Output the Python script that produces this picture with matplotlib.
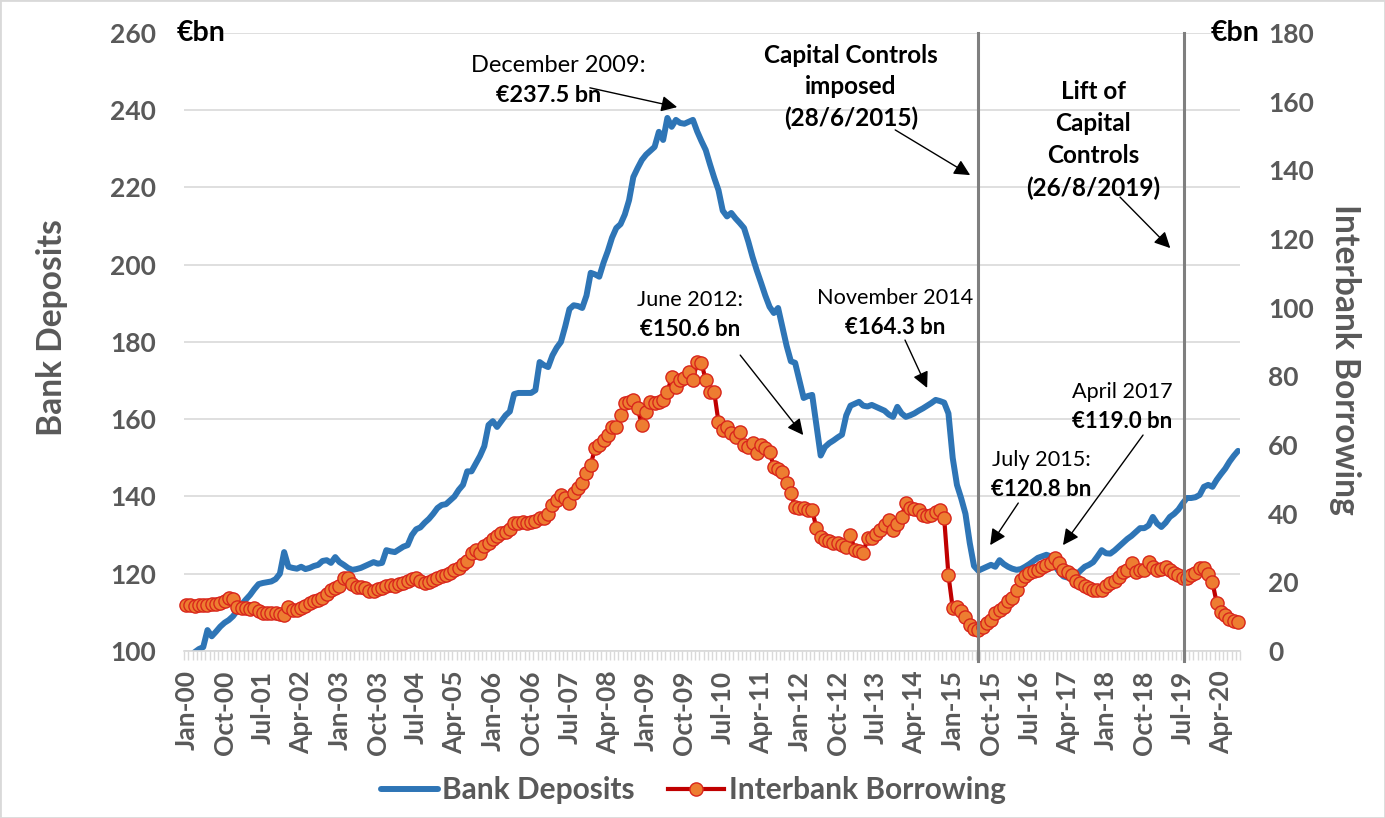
import numpy as np
import pandas as pd
import matplotlib.pyplot as plt
from matplotlib.patches import Rectangle

plt.rcParams['font.family'] = ['Lato', 'DejaVu Sans']

# monthly categories Jan-00 .. Aug-20
months = pd.date_range('2000-01-01', periods=248, freq='MS').strftime('%b-%y').tolist()

# Bank deposits, EUR bn (left axis)
deposits = [
    97.5, 98.8, 99.7, 100.5, 101.0, 105.4, 103.8, 105.0, 106.3, 107.3, 108.0, 109.0,     # 2000
    110.5, 112.0, 113.3, 114.5, 116.0, 117.3, 117.6, 117.8, 118.0, 118.6, 120.0, 125.6,  # 2001
    121.8, 121.5, 121.3, 121.8, 121.2, 121.5, 122.0, 122.3, 123.3, 123.5, 122.8, 124.3,  # 2002
    123.0, 122.3, 121.5, 121.0, 121.2, 121.5, 122.0, 122.5, 123.0, 122.6, 122.8, 126.1,  # 2003
    125.8, 125.6, 126.3, 127.0, 127.4, 130.0, 131.5, 132.0, 133.2, 134.2, 135.5, 137.0,  # 2004
    137.8, 138.0, 139.0, 140.0, 141.7, 143.0, 146.5, 146.5, 148.5, 150.5, 153.0, 158.5,  # 2005
    159.5, 158.0, 159.5, 161.0, 162.0, 166.5, 166.8, 166.8, 166.8, 166.8, 167.5, 174.8,  # 2006
    174.0, 173.5, 176.5, 178.5, 180.0, 184.0, 188.5, 189.5, 189.3, 188.8, 192.0, 197.9,  # 2007
    197.5, 196.9, 200.5, 203.5, 207.0, 209.5, 210.5, 213.0, 216.7, 222.7, 225.0, 227.1,  # 2008
    228.5, 229.5, 230.5, 234.4, 232.3, 238.0, 235.7, 237.5, 236.7, 236.5, 237.0, 237.5,  # 2009
    234.5, 232.0, 229.7, 226.0, 222.5, 219.3, 214.0, 212.5, 213.4, 212.0, 210.8, 209.5,  # 2010
    206.0, 202.0, 198.5, 195.3, 192.0, 189.1, 187.5, 188.8, 183.9, 179.0, 175.0, 174.6,  # 2011
    170.0, 165.5, 166.0, 166.3, 158.5, 150.6, 152.8, 153.8, 154.5, 155.3, 156.0, 161.0,  # 2012
    163.5, 164.0, 164.5, 163.5, 163.3, 163.7, 163.2, 162.7, 162.2, 161.2, 160.6, 163.2,  # 2013
    161.5, 160.6, 161.0, 161.5, 162.2, 162.8, 163.5, 164.2, 165.0, 164.7, 164.3, 161.5,  # 2014
    150.0, 143.0, 139.5, 135.5, 128.0, 122.0, 120.8, 121.3, 121.8, 122.3, 121.8, 123.5,  # 2015
    122.5, 121.8, 121.3, 121.0, 121.2, 121.8, 122.5, 123.3, 124.1, 124.5, 124.9, 124.5,  # 2016
    122.0, 120.5, 119.3, 119.0, 119.0, 119.7, 120.8, 121.8, 122.3, 123.0, 124.5, 126.1,  # 2017
    125.3, 125.2, 126.0, 127.0, 128.0, 129.0, 129.8, 130.8, 131.8, 131.8, 132.5, 134.7,  # 2018
    133.0, 132.1, 133.2, 134.7, 135.5, 136.6, 138.2, 139.6, 139.6, 139.8, 140.4, 142.5,  # 2019
    143.0, 142.5, 144.3, 145.8, 147.2, 149.0, 150.5, 151.8,                              # 2020
]

# Interbank borrowing, EUR bn (right axis)
interbank = [
    13.4, 13.3, 13.1, 13.3, 13.4, 13.5, 13.7, 13.8, 14.0, 14.5, 15.4, 15.2,  # 2000
    12.8, 12.5, 12.5, 12.3, 12.5, 11.5, 11.0, 11.0, 11.2, 11.0, 10.8, 10.5,  # 2001
    12.8, 12.0, 11.9, 12.5, 13.0, 14.0, 14.5, 14.9, 15.4, 16.5, 17.8, 18.3,  # 2002
    19.0, 21.3, 21.3, 19.5, 18.6, 18.5, 18.2, 17.4, 17.5, 18.0, 18.4, 18.8,  # 2003
    19.2, 18.8, 19.5, 19.8, 20.5, 21.0, 21.3, 20.5, 19.8, 20.2, 20.7, 21.3,  # 2004
    21.8, 22.1, 22.8, 23.5, 24.2, 25.2, 26.3, 28.5, 29.4, 28.5, 30.5, 31.5,  # 2005
    32.5, 33.5, 34.4, 34.7, 35.5, 37.3, 37.3, 37.5, 37.4, 37.6, 37.8, 38.7,  # 2006
    38.7, 40.0, 42.5, 44.0, 45.4, 44.5, 43.1, 46.0, 47.5, 48.9, 51.8, 54.2,  # 2007
    59.1, 60.0, 61.5, 62.9, 65.2, 65.3, 68.7, 72.2, 72.6, 73.1, 70.8, 65.8,  # 2008
    69.6, 72.5, 72.3, 72.5, 73.0, 75.4, 79.8, 76.9, 78.9, 79.5, 81.3, 78.9,  # 2009
    84.2, 83.9, 78.9, 75.4, 75.4, 66.7, 64.4, 65.2, 63.5, 62.3, 63.8, 60.0,  # 2010
    59.4, 60.6, 57.7, 60.0, 59.0, 58.0, 53.6, 53.0, 52.1, 48.9, 46.0, 42.0,  # 2011
    41.7, 41.5, 41.1, 41.1, 35.8, 33.2, 32.3, 32.0, 31.5, 31.5, 31.0, 30.3,  # 2012
    33.8, 29.4, 29.0, 28.5, 32.9, 33.0, 34.0, 35.2, 36.7, 38.2, 35.2, 37.0,  # 2013
    39.0, 43.1, 41.7, 41.3, 41.0, 39.6, 39.4, 39.5, 40.5, 41.0, 38.7, 22.1,  # 2014
    12.5, 12.8, 11.5, 9.9, 7.5, 6.3, 6.1, 7.0, 8.0, 9.0, 11.0, 12.0,        # 2015
    12.8, 14.5, 15.4, 17.8, 20.7, 21.8, 22.7, 23.2, 23.6, 24.5, 25.0, 25.6,  # 2016
    27.1, 25.6, 23.6, 23.0, 22.1, 20.5, 19.8, 18.8, 18.4, 17.8, 17.8, 17.8,  # 2017
    18.8, 19.8, 20.5, 21.6, 23.0, 23.5, 25.6, 23.0, 23.6, 23.6, 25.9, 24.5,  # 2018
    23.6, 24.0, 24.5, 23.5, 22.7, 22.0, 21.3, 21.3, 22.0, 22.7, 24.2, 24.2,  # 2019
    22.5, 20.0, 14.0, 11.4, 10.5, 9.2, 8.8, 8.4,                            # 2020
]

# event dates (category position, month index)
capital_controls = 185.9
lift_controls = 234.4

GREY = '#595959'
x = np.arange(len(months))

fig = plt.figure(figsize=(13.85, 8.18), dpi=100)
ax = fig.add_axes([0.1329, 0.2042, 0.7625, 0.7555])
ax2 = ax.twinx()

l1, = ax.plot(x, deposits, color='#2E75B6', lw=4.3, solid_joinstyle='round',
              solid_capstyle='round', label='Bank Deposits')
l2, = ax2.plot(x, interbank, color='#C00000', lw=3, marker='o', ms=9.5,
               mfc='#ED7D31', mec='#D9261C', mew=1, clip_on=False,
               label='Interbank Borrowing')

ax.set_xlim(-0.5, len(months) - 0.5)
ax.set_ylim(100, 260)
ax2.set_ylim(0, 180)
ax.set_yticks(range(100, 261, 20))
ax2.set_yticks(range(0, 181, 20))
ax.grid(axis='y', color='#d9d9d9', lw=1.2)
ax.set_axisbelow(True)

for s in ['left', 'right', 'top']:
    ax.spines[s].set_visible(False)
for s in ax2.spines.values():
    s.set_visible(False)
ax.spines['bottom'].set_color('#d9d9d9')
ax.spines['bottom'].set_linewidth(1.2)

ax.set_xticks(x[::9])
ax.set_xticklabels(months[::9], rotation=90, fontsize=19, fontweight='bold', color=GREY)
ax.set_xticks(np.arange(-0.5, len(months), 1), minor=True)
ax.tick_params(axis='x', which='major', length=0, pad=14)
ax.tick_params(axis='x', which='minor', length=6.5, color='#d9d9d9', width=1)
ax.tick_params(axis='y', length=0, pad=20, labelsize=19, labelcolor=GREY)
ax2.tick_params(axis='y', length=0, pad=20, labelsize=19, labelcolor=GREY)
for lab in ax.get_yticklabels() + ax2.get_yticklabels():
    lab.set_fontweight('bold')

fig.text(0.0375, 0.600, 'Bank Deposits', rotation=90, ha='center', va='center',
         fontsize=24.2, fontweight='bold', color=GREY)
fig.text(0.971, 0.561, 'Interbank Borrowing', rotation=270, ha='center', va='center',
         fontsize=24.2, fontweight='bold', color=GREY)
ax.text(3.5, 260, '€bn', ha='center', va='center', fontsize=20.5, fontweight='bold')
ax.text(246.3, 260, '€bn', ha='center', va='center', fontsize=20.5, fontweight='bold')

# event lines
for pos in [capital_controls, lift_controls]:
    ax2.axvline(pos, ymin=-0.016, ymax=1, color='#7f7f7f', lw=2.2, clip_on=False, zorder=6)

arrow = dict(arrowstyle='-|>', color='black', lw=1, mutation_scale=24, shrinkA=0, shrinkB=0)


def note(xt, yt, head, value, tail, tip, xv=None, size=15.6, vsize=16):
    ax2.text(xt, yt, head, transform=ax.transData, ha='center', va='center', fontsize=size)
    ax2.text(xt if xv is None else xv, yt - 7.7, value, transform=ax.transData,
             ha='center', va='center', fontsize=vsize, fontweight='bold')
    ax2.annotate('', xy=tip, xytext=tail, xycoords=ax.transData,
                 textcoords=ax.transData, arrowprops=arrow, zorder=7)


note(87.3, 251.5, 'December 2009:', '€237.5 bn', (94.8, 245.8), (115.3, 240.8),
     xv=85.0, size=17, vsize=16.8)
note(118.3, 190.9, 'June 2012:', '€150.6 bn', (130.1, 176.6), (144.9, 155.9))
note(166.4, 191.4, 'November 2014', '€164.3 bn', (168.8, 180.5), (174.0, 168.1))
note(219.9, 167.1, 'April 2017', '€119.0 bn', (224.7, 155.9), (205.9, 127.4))
note(200.8, 149.5, 'July 2015:', '€120.8 bn', (195.4, 138.3), (188.8, 127.4))

ax2.text(156.1, 246.0, 'Capital Controls\nimposed\n(28/6/2015)', transform=ax.transData,
         ha='center', va='center', fontsize=17.5, fontweight='bold', linespacing=1.45)
ax2.annotate('', xy=(184.1, 223.2), xytext=(166.5, 234.9), xycoords=ax.transData,
             textcoords=ax.transData, arrowprops=arrow)
ax2.text(213.0, 232.3, 'Lift of\nCapital\nControls\n(26/8/2019)', transform=ax.transData,
         ha='center', va='center', fontsize=17.5, fontweight='bold', linespacing=1.47)
ax2.annotate('', xy=(231.1, 204.3), xytext=(219.3, 217.5), xycoords=ax.transData,
             textcoords=ax.transData, arrowprops=arrow)

leg = fig.legend(handles=[l1, l2], loc='center', bbox_to_anchor=(0.5007, 0.034), ncol=2,
                 frameon=False, handlelength=1.9, handletextpad=0.15, columnspacing=1.1,
                 prop=dict(size=21.5, weight='bold'))
for t in leg.get_texts():
    t.set_color(GREY)

fig.patches.append(Rectangle((0, 0), 1, 1, transform=fig.transFigure, fill=False,
                             edgecolor='#d9d9d9', lw=2))

fig.savefig('out.png', dpi=100)
